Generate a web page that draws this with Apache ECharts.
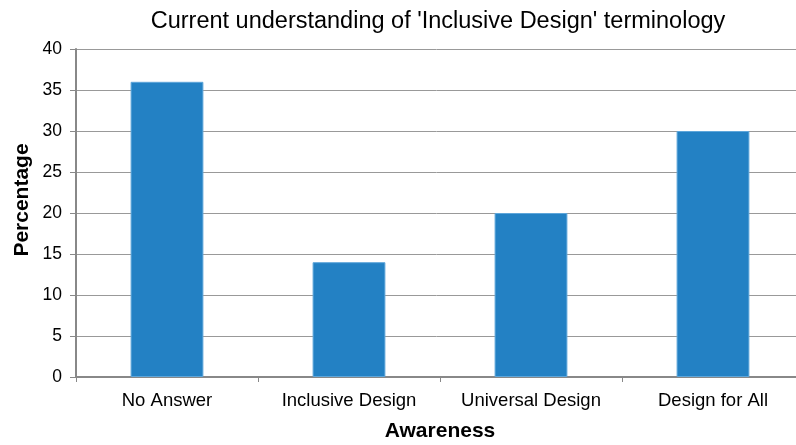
<!DOCTYPE html>
<html><head><meta charset="utf-8">
<script src="https://cdn.jsdelivr.net/npm/echarts@6/dist/echarts.min.js"></script>
<style>html,body{margin:0;padding:0;background:#fff}#c{width:796px;height:445px}</style>
</head><body><div id="c"></div>
<script>
const categories = ['No Answer', 'Inclusive Design', 'Universal Design', 'Design for All'];
const values = [36, 14, 20, 30];
const yTicks = [0, 5, 10, 15, 20, 25, 30, 35, 40];
const titleText = "Current understanding of 'Inclusive Design' terminology";
const xName = 'Awareness';
const yName = 'Percentage';

const chart = echarts.init(document.getElementById('c'));
const font = 'Liberation Sans, Arial, sans-serif';
chart.setOption({
  animation: false,
  title: {
    text: titleText, left: 433, top: 5, textAlign: 'center',
    textStyle: { fontFamily: font, fontSize: 23.5, fontWeight: 'normal', color: '#000' }
  },
  grid: { left: 76, top: 49, right: -8, bottom: 68, containLabel: false, outerBoundsMode: 'none' },
  xAxis: {
    type: 'category', data: categories,
    name: xName, nameLocation: 'middle', nameGap: 44,
    nameTextStyle: { fontFamily: font, fontSize: 21, fontWeight: 'bold', color: '#000' },
    axisLine: { lineStyle: { color: '#888', width: 2 } },
    axisTick: { show: true, length: 5, lineStyle: { color: '#888', width: 1 } },
    axisLabel: { fontFamily: font, fontSize: 18.5, color: '#000', margin: 14 }
  },
  yAxis: {
    type: 'value', min: yTicks[0], max: yTicks[yTicks.length - 1], interval: yTicks[1] - yTicks[0],
    name: yName, nameLocation: 'middle', nameGap: 43, nameMoveOverlap: false,
    nameTextStyle: { fontFamily: font, fontSize: 21, fontWeight: 'bold', color: '#000', padding: [8, 0, 0, 26] },
    axisLine: { show: true, lineStyle: { color: '#888', width: 2 } },
    axisTick: { show: true, length: 6, lineStyle: { color: '#888', width: 1 } },
    axisLabel: { fontFamily: font, fontSize: 17.5, color: '#000', margin: 14 },
    splitLine: { lineStyle: { color: '#999', width: 1 } }
  },
  series: [{
    type: 'bar', data: values, barWidth: '40%',
    itemStyle: { color: '#2381c4', borderColor: '#5ea6da', borderWidth: 1 }
  }]
});
</script></body></html>
